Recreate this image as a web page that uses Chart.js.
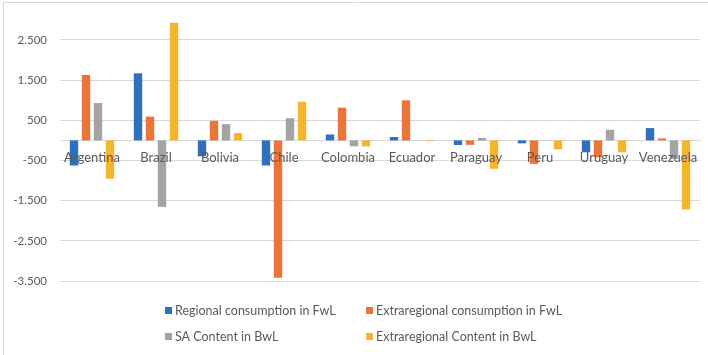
<!DOCTYPE html>
<html>
<head>
<meta charset="utf-8">
<script src="https://cdn.jsdelivr.net/npm/chart.js@4/dist/chart.umd.min.js"></script>
<style>
  html, body { margin: 0; padding: 0; background: #fff; }
  #wrap { width: 708px; height: 355px; position: relative; }
</style>
</head>
<body>
<div id="wrap"><canvas id="chart" width="708" height="355"></canvas></div>
<script>
// countries and the four flow measures per country
const countries = ["Argentina", "Brazil", "Bolivia", "Chile", "Colombia", "Ecuador", "Paraguay", "Peru", "Uruguay", "Venezuela"];
const regionalFwL = [-625, 1670, -395, -625, 148, 84, -115, -74, -296, 306];
const extraFwL = [1630, 593, 486, -3422, 815, 998, -110, -583, -420, 49];
const saContentBwL = [930, -1654, 405, 553, -148, -5, 60, -5, 264, -460];
const extraContentBwL = [-953, 2930, 183, 963, -148, -20, -706, -222, -296, -1719];
const yTicks = [-3500, -2500, -1500, -500, 500, 1500, 2500];

const seriesNames = [
  "Regional consumption in FwL",
  "Extraregional consumption in FwL",
  "SA Content in BwL",
  "Extraregional Content in BwL",
];
const colors = ["#2e6fc1", "#ec7436", "#a3a3a3", "#f8b42a"];
const textColor = "#595959";
const gridColor = "#d9d9d9";
const font = "Lato, 'Open Sans', sans-serif";

const fmt = (v) => {
  const s = Math.abs(v).toString().replace(/\B(?=(\d{3})+(?!\d))/g, ".");
  return (v < 0 ? "-" : "") + s;
};

// 2x2 legend under the plot plus the frame on the top/left edges
const gridLegend = {
  id: "gridLegend",
  afterDraw(chart) {
    const ctx = chart.ctx;
    ctx.save();
    ctx.strokeStyle = gridColor;
    ctx.lineWidth = 1;
    ctx.beginPath();
    ctx.moveTo(3.5, 355);
    ctx.lineTo(3.5, 2.5);
    ctx.lineTo(708, 2.5);
    ctx.stroke();

    const cols = [165, 366];
    const rows = [311, 337];
    ctx.font = "12.5px " + font;
    ctx.textBaseline = "middle";
    ctx.textAlign = "left";
    chart.data.datasets.forEach((ds, i) => {
      const x = cols[i % 2];
      const y = rows[Math.floor(i / 2)];
      ctx.fillStyle = ds.backgroundColor;
      ctx.fillRect(x, y - 4, 7, 7);
      ctx.fillStyle = textColor;
      ctx.fillText(ds.label, x + 10, y);
    });
    ctx.restore();
  },
};

const seriesData = [regionalFwL, extraFwL, saContentBwL, extraContentBwL];

new Chart(document.getElementById("chart").getContext("2d"), {
  type: "bar",
  data: {
    labels: countries,
    datasets: seriesData.map((d, i) => ({
      label: seriesNames[i],
      data: d,
      backgroundColor: colors[i],
      borderWidth: 0,
      categoryPercentage: 0.75,
      barPercentage: 0.7,
    })),
  },
  options: {
    responsive: false,
    animation: false,
    layout: { padding: { top: 18, right: 8, bottom: 74, left: 0 } },
    plugins: {
      legend: { display: false },
      tooltip: { enabled: false },
    },
    scales: {
      x: {
        position: { y: 0 },
        grid: { display: false, drawTicks: false },
        border: { display: true, color: gridColor, width: 1 },
        ticks: {
          z: 1, // country names sit on top of the bars
          color: textColor,
          font: { family: font, size: 13 },
          padding: 10,
          autoSkip: false,
          maxRotation: 0,
        },
      },
      y: {
        min: -3500,
        max: 3000,
        afterBuildTicks(scale) {
          scale.ticks = yTicks.map((v) => ({ value: v }));
        },
        afterFit(scale) {
          scale.width = 60;
        },
        grid: { color: gridColor, drawTicks: false },
        border: { display: false },
        ticks: {
          color: textColor,
          font: { family: font, size: 11.5 },
          padding: 13,
          callback: (v) => fmt(v),
        },
      },
    },
  },
  plugins: [gridLegend],
});
</script>
</body>
</html>
